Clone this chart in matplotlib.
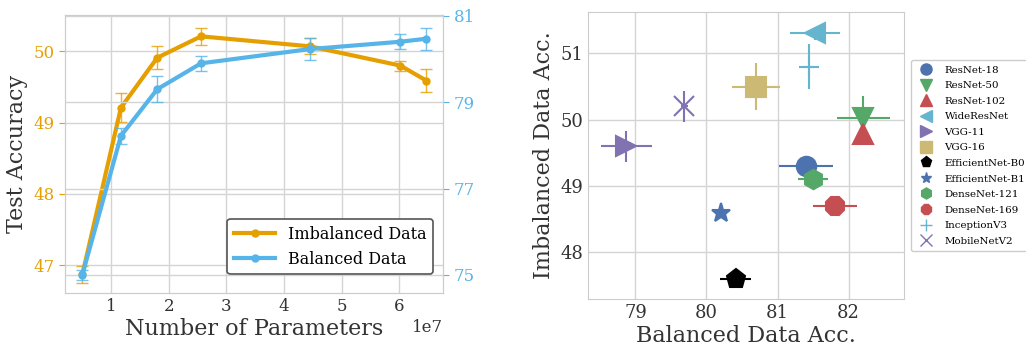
import numpy as np
import matplotlib.pyplot as plt
from matplotlib.lines import Line2D

plt.rcParams['font.family'] = 'DejaVu Serif'

# left panel: accuracy vs number of parameters
params = [0.50e7, 1.17e7, 1.80e7, 2.56e7, 4.45e7, 6.02e7, 6.47e7]
imb_acc = [46.87, 49.21, 49.91, 50.21, 50.07, 49.80, 49.59]
imb_err = [0.12, 0.20, 0.16, 0.12, 0.11, 0.07, 0.16]
bal_acc = [75.00, 78.22, 79.30, 79.90, 80.23, 80.40, 80.47]
bal_err = [0.12, 0.18, 0.30, 0.18, 0.25, 0.17, 0.25]

# right panel: per-model accuracies
models = ['ResNet-18', 'ResNet-50', 'ResNet-102', 'WideResNet', 'VGG-11', 'VGG-16',
          'EfficientNet-B0', 'EfficientNet-B1', 'DenseNet-121', 'DenseNet-169',
          'InceptionV3', 'MobileNetV2']
bal = [81.40, 82.21, 82.21, 81.53, 78.87, 80.70, 80.41, 80.20, 81.50, 81.81, 81.44, 79.69]
bal_e = [0.375, 0.375, 0.05, 0.35, 0.36, 0.34, 0.22, 0.08, 0.21, 0.31, 0.08, 0.05]
imb = [49.30, 50.02, 49.79, 51.30, 49.60, 50.50, 47.60, 48.60, 49.10, 48.70, 50.80, 50.20]
imb_e = [0.10, 0.33, 0.16, 0.10, 0.23, 0.36, 0.04, 0.06, 0.08, 0.07, 0.34, 0.23]
markers = ['o', 'v', '^', '<', '>', 's', 'p', '*', 'h', '8', '+', 'x']
colors = ['#4C72B0', '#55A868', '#C44E52', '#64B5CD', '#8172B2', '#CCB974',
          'black', '#4C72B0', '#55A868', '#C44E52', '#64B5CD', '#8172B2']

orange = '#E69F00'
blue = '#56B4E9'
grid_c = '#d4d4d4'

fig = plt.figure(figsize=(10.26, 3.48), dpi=100)
ax1 = fig.add_axes([0.0634, 0.158, 0.3684, 0.799])
ax2 = ax1.twinx()

ax1.plot(params, imb_acc, color=orange, lw=3, marker='o', ms=5, zorder=3)
ax1.errorbar(params, imb_acc, yerr=imb_err, color=orange, ls='none', capsize=4,
             elinewidth=1, capthick=1, alpha=0.8, zorder=3)
ax2.plot(params, bal_acc, color=blue, lw=3, marker='o', ms=5, zorder=3)
ax2.errorbar(params, bal_acc, yerr=bal_err, color=blue, ls='none', capsize=4,
             elinewidth=1, capthick=1, alpha=0.8, zorder=3)

ax1.set_xlim(0.2e7, 6.76e7)
ax1.set_ylim(46.61, 50.51)
ax2.set_ylim(74.58, 81.02)
ax1.set_yticks([47, 48, 49, 50])
ax2.set_yticks([75, 77, 79, 81])
ax1.set_xticks([1e7, 2e7, 3e7, 4e7, 5e7, 6e7])
ax1.grid(True, color=grid_c, lw=1)
ax2.grid(True, axis='y', color=grid_c, lw=1)
ax1.set_axisbelow(True)
ax1.tick_params(axis='y', colors=orange, labelsize=12, length=4)
ax2.tick_params(axis='y', colors=blue, labelsize=12, length=4)
ax1.tick_params(axis='x', labelsize=12, length=0, colors='#333333')
ax1.xaxis.get_offset_text().set_fontsize(12)
for ax in (ax1, ax2):
    for s in ax.spines.values():
        s.set_color('#cccccc')
ax1.set_ylabel('Test Accuracy', fontsize=16, color='#333333')
ax1.set_xlabel('Number of Parameters', fontsize=16, color='#333333', labelpad=2)

lh = [Line2D([], [], color=orange, lw=3, marker='o', ms=5),
      Line2D([], [], color=blue, lw=3, marker='o', ms=5)]
leg = ax2.legend(lh, ['Imbalanced Data', 'Balanced Data'], loc='lower right',
                 fontsize=11.5, bbox_to_anchor=(0.995, 0.04), framealpha=1,
                 edgecolor='#555555', handlelength=2.6)
leg.get_frame().set_linewidth(1.2)

# right panel
ax3 = fig.add_axes([0.573, 0.141, 0.308, 0.824])
for i in range(len(models)):
    ax3.errorbar(bal[i], imb[i], xerr=bal_e[i], yerr=imb_e[i], color=colors[i],
                 marker=markers[i], ms=14, mew=1.5, lw=1.5, ls='none', zorder=3)
ax3.set_xlim(78.33, 82.78)
ax3.set_ylim(47.30, 51.62)
ax3.set_xticks([79, 80, 81, 82])
ax3.set_yticks([48, 49, 50, 51])
ax3.grid(True, color=grid_c, lw=1)
ax3.set_axisbelow(True)
for s in ax3.spines.values():
    s.set_color('#cccccc')
ax3.tick_params(labelsize=13, length=0, colors='#333333')
ax3.set_xlabel('Balanced Data Acc.', fontsize=16, color='#333333', labelpad=2)
ax3.set_ylabel('Imbalanced Data Acc.', fontsize=16, color='#333333')

mh = [Line2D([], [], color=colors[i], marker=markers[i], ls='none', ms=8, mew=1)
      for i in range(len(models))]
leg3 = ax3.legend(mh, models, loc='center left', bbox_to_anchor=(1.005, 0.5),
                  fontsize=7.4, handletextpad=0.8, labelspacing=0.62,
                  framealpha=1, edgecolor='#cccccc', borderpad=0.5)

fig.savefig('out.png', dpi=100)
